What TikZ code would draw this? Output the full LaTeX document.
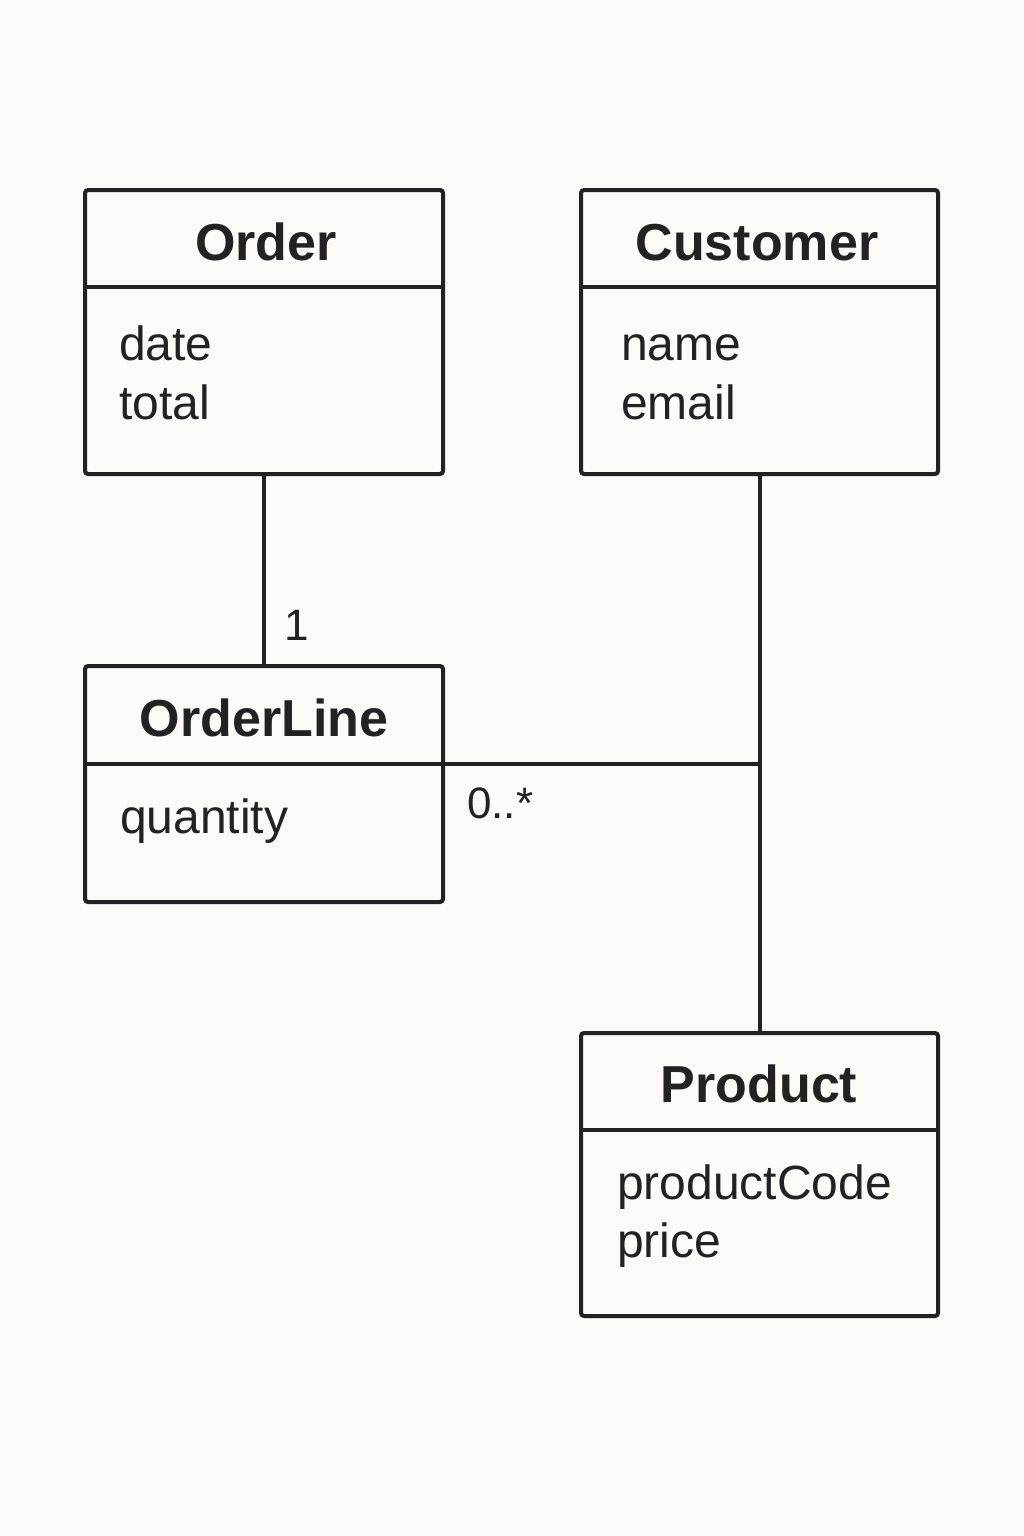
\documentclass[tikz,border=0pt]{standalone}
\usepackage{fontspec}
\setmainfont{Liberation Sans}
\definecolor{ink}{HTML}{222222}
\definecolor{paper}{HTML}{FCFAF7}
\begin{document}
\begin{tikzpicture}[x=1pt,y=-1pt,
  box/.style={draw=ink, line width=4pt, rounded corners=3pt, inner sep=0pt},
  divider/.style={draw=ink, line width=4pt},
  conn/.style={draw=ink, line width=4pt},
  title/.style={font=\fontsize{52}{60}\selectfont\bfseries, text=ink, anchor=base, inner sep=0pt},
  attr/.style={font=\fontsize{48}{56}\selectfont, text=ink, anchor=base west, inner sep=0pt},
  mult/.style={font=\fontsize{44}{50}\selectfont, text=ink, anchor=base west, inner sep=0pt}]
\fill[paper] (0,0) rectangle (1024,1536);
\useasboundingbox (0,0) rectangle (1024,1536);

% Boxes
\node[box, minimum width=358pt, minimum height=284pt] (order) at (264,332) {};
\node[box, minimum width=357pt, minimum height=284pt] (customer) at (759.5,332) {};
\node[box, minimum width=358pt, minimum height=236pt] (orderline) at (264,784) {};
\node[box, minimum width=357pt, minimum height=283pt] (product) at (759.5,1174.5) {};

% Dividers
\draw[divider] (order.west |- 0,287) -- (order.east |- 0,287);
\draw[divider] (customer.west |- 0,287) -- (customer.east |- 0,287);
\draw[divider] (orderline.west |- 0,764) coordinate (olw) -- (orderline.east |- 0,764) coordinate (ole);
\draw[divider] (product.west |- 0,1130) -- (product.east |- 0,1130);

% Titles
\node[title] (ordert) at (266,260) {Order};
\node[title] (customert) at (757,260) {Customer};
\node[title] (orderlinet) at (264,736) {OrderLine};
\node[title] (productt) at (759,1102) {Product};

% Attributes
\node[attr] (a1) at (119,360) {date};
\node[attr] (a2) at (119,419) {total};
\node[attr] (a3) at (621,360) {name};
\node[attr] (a4) at (621,419) {email};
\node[attr] (a5) at (120,833) {quantity};
\node[attr] (a6) at (617,1199) {productCode};
\node[attr] (a7) at (617,1257) {price};

% Connectors
\draw[conn] (order.south) -- (orderline.north);
\draw[conn] (customer.south) -- (product.north);
\coordinate (j) at (customer.south |- ole);
\draw[conn] (ole) -- (j);

% Multiplicities
\node[mult] (m1) at (284,640) {1};
\node[mult] (m2) at (467,818) {0..*};
\end{tikzpicture}
\end{document}
